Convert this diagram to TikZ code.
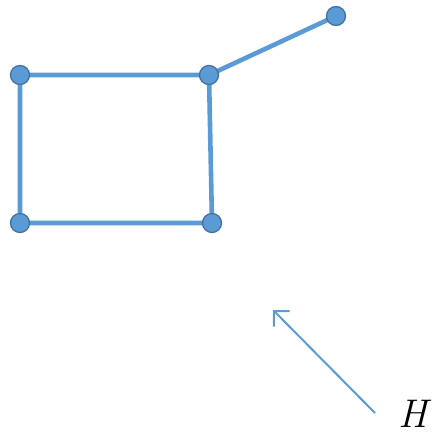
\documentclass[tikz,border=0pt]{standalone}
\usetikzlibrary{arrows.meta}
\definecolor{edgeblue}{HTML}{5B9BD5}
\definecolor{rimblue}{HTML}{41719C}
\pgfdeclarelayer{bg}
\pgfsetlayers{bg,main}
\tikzset{
  vtx/.style={circle, fill=edgeblue, draw=rimblue, line width=1.3pt, minimum size=19pt, inner sep=0pt},
  edge/.style={draw=edgeblue, line width=4.6pt},
  field/.style={draw=edgeblue, line width=2pt, -{Straight Barb[length=11pt,width=22pt,line width=2pt]}}
}
\begin{document}
\begin{tikzpicture}[x=1pt,y=-1pt]
\useasboundingbox (0,0) rectangle (436,436);
\coordinate (hs) at (375,413);
\coordinate (he) at (273,310);
\draw[field] (hs) -- (he);
\node[inner sep=0pt] (H) at (413,414) {\fontsize{40}{40}\selectfont\itshape H};
\node[vtx] (a) at (20,75) {};
\node[vtx] (b) at (209,75) {};
\node[vtx] (c) at (336,16) {};
\node[vtx] (d) at (20,223) {};
\node[vtx] (e) at (212,223) {};
\begin{pgfonlayer}{bg}
\path[edge] (a.center) -- (b.center) -- (e.center) -- (d.center) -- cycle;
\path[edge] (b.center) -- (c.center);
\end{pgfonlayer}
\end{tikzpicture}
\end{document}
